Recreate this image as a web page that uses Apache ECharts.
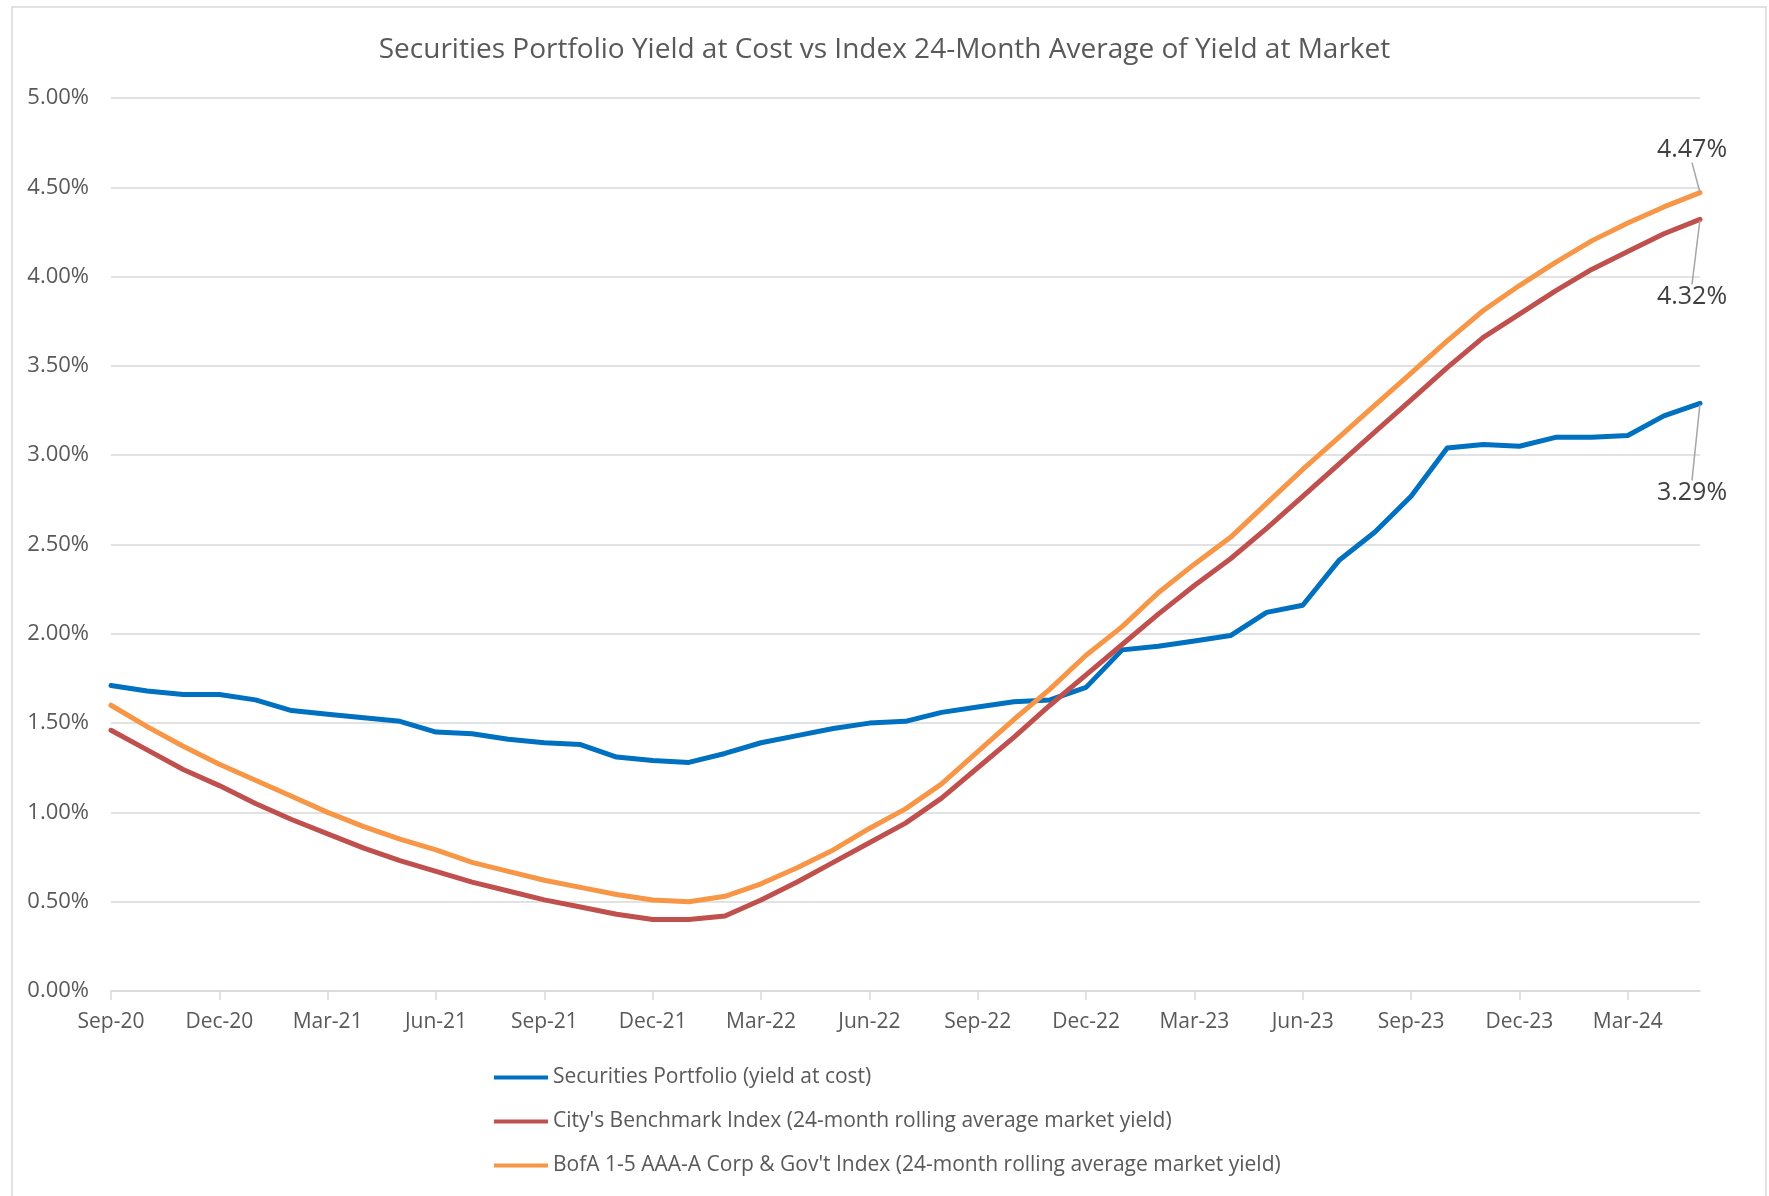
<!DOCTYPE html>
<html>
<head>
<meta charset="utf-8">
<title>Securities Portfolio Yield</title>
<script src="https://cdn.jsdelivr.net/npm/echarts@6/dist/echarts.min.js"></script>
<style>
  body { margin: 0; background: #fff; }
  #chart { width: 1769px; height: 1196px; }
</style>
</head>
<body>
<div id="chart"></div>
<script>
// months Sep-20 .. May-24
const months = [
  'Sep-20','Oct-20','Nov-20','Dec-20','Jan-21','Feb-21','Mar-21','Apr-21','May-21','Jun-21','Jul-21','Aug-21',
  'Sep-21','Oct-21','Nov-21','Dec-21','Jan-22','Feb-22','Mar-22','Apr-22','May-22','Jun-22','Jul-22','Aug-22',
  'Sep-22','Oct-22','Nov-22','Dec-22','Jan-23','Feb-23','Mar-23','Apr-23','May-23','Jun-23','Jul-23','Aug-23',
  'Sep-23','Oct-23','Nov-23','Dec-23','Jan-24','Feb-24','Mar-24','Apr-24','May-24'
];

const portfolio = [
  1.71, 1.68, 1.66, 1.66, 1.63, 1.57, 1.55, 1.53, 1.51, 1.45, 1.44, 1.41,
  1.39, 1.38, 1.31, 1.29, 1.28, 1.33, 1.39, 1.43, 1.47, 1.50, 1.51, 1.56,
  1.59, 1.62, 1.63, 1.70, 1.91, 1.93, 1.96, 1.99, 2.12, 2.16, 2.41, 2.57,
  2.77, 3.04, 3.06, 3.05, 3.10, 3.10, 3.11, 3.22, 3.29
];

const benchmark = [
  1.46, 1.35, 1.24, 1.15, 1.05, 0.96, 0.88, 0.80, 0.73, 0.67, 0.61, 0.56,
  0.51, 0.47, 0.43, 0.40, 0.40, 0.42, 0.51, 0.61, 0.72, 0.83, 0.94, 1.08,
  1.25, 1.42, 1.60, 1.77, 1.94, 2.11, 2.27, 2.42, 2.59, 2.77, 2.95, 3.13,
  3.31, 3.49, 3.66, 3.79, 3.92, 4.04, 4.14, 4.24, 4.32
];

const bofa = [
  1.60, 1.48, 1.37, 1.27, 1.18, 1.09, 1.00, 0.92, 0.85, 0.79, 0.72, 0.67,
  0.62, 0.58, 0.54, 0.51, 0.50, 0.53, 0.60, 0.69, 0.79, 0.91, 1.02, 1.16,
  1.34, 1.52, 1.69, 1.88, 2.04, 2.23, 2.39, 2.54, 2.73, 2.92, 3.10, 3.28,
  3.46, 3.64, 3.81, 3.95, 4.08, 4.20, 4.30, 4.39, 4.47
];

const seriesNames = [
  'Securities Portfolio (yield at cost)',
  "City's Benchmark Index (24-month rolling average market yield)",
  "BofA 1-5 AAA-A Corp & Gov't Index (24-month rolling average market yield)"
];

const FONT = 'Open Sans';
const TXT = '#595959';

// label only on the last point
function endLabel(values) {
  return values.map((v, i) => i === values.length - 1
    ? { value: v, label: { show: true }, labelLine: { show: true } }
    : v);
}

function makeSeries(name, values, color, dx, dy) {
  return {
    name: name,
    type: 'line',
    data: endLabel(values),
    symbol: 'circle',
    symbolSize: 2,
    showSymbol: true,
    lineStyle: { color: color, width: 5, cap: 'round', join: 'round' },
    itemStyle: { color: color },
    label: {
      show: false,
      position: 'top',
      formatter: p => p.value.toFixed(2) + '%',
      fontFamily: FONT,
      fontSize: 25,
      color: '#404040'
    },
    labelLine: { show: false, lineStyle: { color: '#a6a6a6', width: 1.5 } },
    labelLayout: { dx: dx, dy: dy, hideOverlap: false },
    emphasis: { disabled: true }
  };
}

const chart = echarts.init(document.getElementById('chart'));
const option = {
  animation: false,
  backgroundColor: '#fff',
  textStyle: { fontFamily: FONT },
  graphic: [{
    type: 'rect',
    shape: { x: 12, y: 7, width: 1754, height: 1210 },
    style: { fill: 'none', stroke: '#d9d9d9', lineWidth: 1.5 },
    silent: true
  }],
  title: {
    text: 'Securities Portfolio Yield at Cost vs Index 24-Month Average of Yield at Market',
    left: 'center',
    top: 31,
    textStyle: { fontFamily: FONT, fontSize: 28, fontWeight: 'normal', color: TXT }
  },
  grid: { left: 111, right: 69, top: 98, bottom: 205, containLabel: false },
  legend: {
    orient: 'vertical',
    left: 489,
    top: 1062,
    itemWidth: 54,
    itemHeight: 14,
    itemGap: 23,
    icon: 'path://M0,5 L54,5 L54,9 L0,9 Z',
    textStyle: { fontFamily: FONT, fontSize: 21, color: TXT },
    data: seriesNames
  },
  xAxis: {
    type: 'category',
    data: months,
    boundaryGap: false,
    axisLine: { lineStyle: { color: '#d9d9d9', width: 1.5 } },
    axisTick: { show: true, interval: 2, length: 9, lineStyle: { color: '#d9d9d9', width: 1.5 } },
    axisLabel: { interval: 2, margin: 21, fontFamily: FONT, fontSize: 21, color: TXT },
    splitLine: { show: false }
  },
  yAxis: {
    type: 'value',
    min: 0,
    max: 5,
    interval: 0.5,
    axisLine: { show: false },
    axisTick: { show: false },
    axisLabel: { formatter: v => v.toFixed(2) + '%', margin: 22, fontFamily: FONT, fontSize: 22, color: TXT },
    splitLine: { lineStyle: { color: '#d9d9d9', width: 1.5 } }
  },
  series: [
    makeSeries(seriesNames[0], portfolio, '#0070C0', -8, 108),
    makeSeries(seriesNames[1], benchmark, '#C0504D', -8, 96),
    makeSeries(seriesNames[2], bofa, '#F79646', -8, -24)
  ]
};
chart.setOption(option);
</script>
</body>
</html>
